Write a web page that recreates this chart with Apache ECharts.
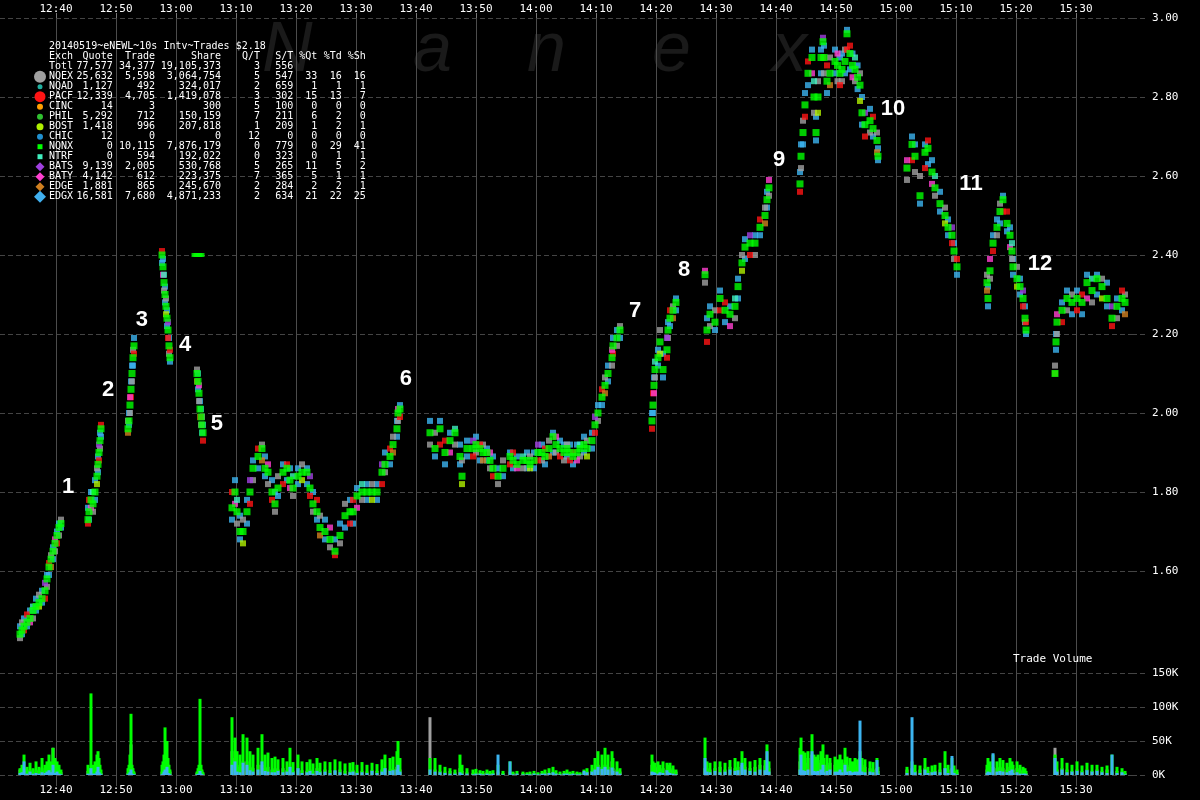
<!DOCTYPE html>
<html><head><meta charset="utf-8">
<script src="https://cdn.jsdelivr.net/npm/echarts@6/dist/echarts.min.js"></script>
<style>html,body{margin:0;padding:0;background:#000}#c{width:1200px;height:800px}</style>
</head><body><div id="c"></div>
<script>
// ---------- DATA (time = minutes after 12:00, 10s-interval trade clusters) ----------
const times = [
 34.0,34.33,34.67,35.17,35.67,36.17,36.67,37.17,37.67,38.17,38.5,38.83,39.17,39.5,39.83,40.17,40.5,40.83,
 45.33,45.5,45.83,46.17,46.5,46.83,47.0,47.17,47.33,47.5,
 52.0,52.17,52.33,52.5,52.67,52.83,53.0,
 57.67,57.83,58.0,58.17,58.33,58.5,58.67,58.83,59.0,
 63.5,63.67,63.83,64.0,64.17,64.33,64.5,
 69.33,69.83,70.17,70.67,71.17,71.83,72.33,72.83,73.67,74.33,74.83,75.33,76.0,76.5,77.0,77.83,78.5,79.0,79.5,80.33,81.0,81.83,82.33,82.83,83.5,84.0,84.83,85.67,86.5,87.33,88.17,89.0,89.5,90.17,91.0,91.83,92.67,93.5,94.33,94.83,95.67,96.17,96.83,97.0,97.33,
 102.33,103.17,104.0,104.83,105.67,106.5,107.33,107.67,108.5,109.5,110.0,110.67,111.17,111.83,112.33,112.83,113.67,114.5,115.67,116.17,116.83,117.83,118.5,119.0,119.67,120.33,121.0,121.5,122.17,122.83,123.33,124.0,124.67,125.17,125.67,126.17,126.83,127.33,128.0,128.5,129.33,129.83,130.33,131.0,131.5,132.0,132.67,132.83,133.5,134.0,
 139.33,139.5,139.67,139.83,140.33,140.67,141.17,141.83,142.0,142.33,142.83,143.33,
 148.17,148.5,149.0,149.83,150.67,151.5,152.33,153.17,153.67,154.33,154.83,155.67,156.5,157.33,158.17,158.5,158.83,
 164.0,164.17,164.5,164.83,165.33,166.0,166.33,166.67,167.0,167.5,167.83,168.0,168.5,169.0,169.83,170.25,170.67,171.0,171.5,171.83,172.33,172.75,173.17,173.6,174.0,174.33,174.83,175.67,176.17,176.83,177.0,
 181.83,182.67,183.17,184.0,184.83,185.33,186.0,186.5,187.33,188.17,188.67,189.33,189.67,190.17,
 195.17,195.33,195.67,196.17,196.83,197.33,197.83,198.5,199.0,199.33,199.5,200.17,200.67,201.17,201.5,201.67,
 206.5,206.67,206.83,207.67,208.5,209.33,210.17,211.0,211.83,212.67,213.5,214.33,215.17,216.0,216.83,217.67,218.17
];
const nqnxPrice = [
 1.44,1.45,1.46,1.47,1.48,1.50,1.51,1.52,1.53,1.55,1.58,1.61,1.63,1.65,1.67,1.69,1.71,1.72,
 1.73,1.75,1.78,1.77,1.80,1.84,1.87,1.90,1.93,1.96,
 1.96,1.98,2.02,2.06,2.10,2.14,2.17,
 2.40,2.37,2.33,2.30,2.27,2.24,2.21,2.17,2.14,
 2.10,2.08,2.05,2.01,1.99,1.97,1.95,
 1.76,1.80,1.75,1.70,1.70,1.75,1.80,1.86,1.89,1.91,1.86,1.85,1.80,1.77,1.81,1.85,1.86,1.83,1.81,1.84,1.85,1.85,1.81,1.77,1.75,1.71,1.70,1.68,1.65,1.69,1.74,1.75,1.75,1.79,1.80,1.80,1.80,1.80,1.85,1.87,1.89,1.92,1.96,2.00,2.01,
 1.95,1.91,1.96,1.90,1.93,1.95,1.89,1.84,1.91,1.91,1.92,1.91,1.90,1.90,1.88,1.86,1.84,1.86,1.89,1.88,1.87,1.88,1.88,1.87,1.88,1.90,1.90,1.89,1.91,1.94,1.92,1.91,1.90,1.91,1.90,1.89,1.90,1.91,1.92,1.91,1.93,1.97,2.00,2.04,2.07,2.10,2.14,2.17,2.19,2.21,
 1.98,2.02,2.07,2.11,2.14,2.18,2.11,2.16,2.21,2.24,2.26,2.28,
 2.35,2.21,2.25,2.23,2.29,2.26,2.25,2.27,2.32,2.38,2.42,2.43,2.43,2.47,2.50,2.54,2.57,
 2.58,2.65,2.71,2.78,2.86,2.90,2.80,2.71,2.80,2.90,2.94,2.90,2.84,2.86,2.89,2.88,2.86,2.87,2.89,2.96,2.91,2.88,2.87,2.85,2.83,2.76,2.73,2.74,2.72,2.69,2.65,
 2.62,2.68,2.65,2.55,2.66,2.67,2.61,2.57,2.53,2.50,2.47,2.45,2.41,2.37,
 2.33,2.29,2.36,2.43,2.47,2.51,2.54,2.48,2.45,2.41,2.37,2.34,2.32,2.29,2.24,2.21,
 2.10,2.18,2.23,2.26,2.29,2.28,2.29,2.28,2.33,2.31,2.34,2.32,2.29,2.24,2.27,2.29,2.28
];
const lowPrice = [
 1.43,1.44,1.45,1.46,1.47,1.48,1.50,1.51,1.52,1.53,1.56,1.59,1.61,1.63,1.65,1.67,1.69,1.71,
 1.72,1.73,1.76,1.75,1.78,1.82,1.85,1.88,1.91,1.94,
 1.95,1.97,2.00,2.04,2.08,2.12,2.15,
 2.38,2.35,2.31,2.28,2.25,2.22,2.19,2.15,2.13,
 2.08,2.06,2.03,1.99,1.97,1.95,1.93,
 1.73,1.77,1.72,1.68,1.67,1.72,1.77,1.83,1.86,1.88,1.84,1.82,1.78,1.75,1.79,1.82,1.83,1.81,1.79,1.82,1.83,1.82,1.79,1.75,1.73,1.69,1.68,1.66,1.64,1.67,1.71,1.72,1.72,1.76,1.78,1.78,1.78,1.78,1.82,1.85,1.87,1.90,1.94,1.98,1.99,
 1.92,1.89,1.92,1.87,1.90,1.92,1.87,1.82,1.89,1.89,1.90,1.88,1.88,1.88,1.86,1.84,1.82,1.84,1.87,1.86,1.86,1.86,1.86,1.86,1.86,1.88,1.88,1.87,1.89,1.90,1.90,1.89,1.88,1.89,1.88,1.87,1.88,1.89,1.90,1.89,1.91,1.95,1.98,2.02,2.05,2.08,2.12,2.15,2.17,2.19,
 1.96,2.00,2.05,2.09,2.12,2.15,2.09,2.14,2.19,2.22,2.24,2.26,
 2.33,2.18,2.22,2.21,2.26,2.23,2.22,2.24,2.29,2.36,2.39,2.40,2.40,2.45,2.48,2.52,2.55,
 2.56,2.62,2.68,2.75,2.83,2.86,2.76,2.69,2.76,2.86,2.90,2.86,2.81,2.83,2.86,2.84,2.83,2.84,2.86,2.92,2.87,2.85,2.84,2.82,2.79,2.73,2.70,2.71,2.70,2.66,2.64,
 2.59,2.64,2.61,2.53,2.62,2.63,2.58,2.55,2.51,2.48,2.45,2.43,2.39,2.35,
 2.31,2.27,2.34,2.41,2.45,2.48,2.51,2.46,2.42,2.39,2.35,2.32,2.30,2.27,2.23,2.20,
 2.10,2.16,2.20,2.23,2.26,2.25,2.26,2.25,2.29,2.28,2.30,2.29,2.27,2.22,2.24,2.26,2.25
];
const highPrice = [
 1.46,1.47,1.48,1.49,1.50,1.51,1.53,1.54,1.55,1.57,1.59,1.62,1.64,1.66,1.68,1.70,1.72,1.73,
 1.76,1.78,1.80,1.80,1.83,1.86,1.89,1.92,1.95,1.97,
 1.98,2.00,2.04,2.08,2.12,2.16,2.19,
 2.41,2.39,2.35,2.32,2.29,2.26,2.23,2.19,2.16,
 2.11,2.10,2.07,2.03,2.01,1.99,1.97,
 1.80,1.83,1.78,1.74,1.73,1.78,1.83,1.88,1.91,1.92,1.89,1.87,1.83,1.80,1.84,1.87,1.87,1.86,1.84,1.86,1.87,1.86,1.84,1.80,1.78,1.74,1.73,1.71,1.68,1.72,1.77,1.78,1.78,1.81,1.82,1.82,1.82,1.82,1.87,1.90,1.91,1.94,1.98,2.01,2.02,
 1.98,1.95,1.98,1.93,1.95,1.96,1.92,1.88,1.93,1.93,1.94,1.92,1.92,1.91,1.90,1.89,1.86,1.88,1.90,1.90,1.89,1.89,1.90,1.89,1.90,1.92,1.92,1.91,1.93,1.95,1.94,1.93,1.92,1.92,1.92,1.90,1.92,1.92,1.94,1.93,1.95,1.99,2.02,2.06,2.09,2.12,2.16,2.19,2.21,2.22,
 2.00,2.05,2.09,2.13,2.16,2.21,2.15,2.19,2.23,2.26,2.27,2.29,
 2.36,2.24,2.27,2.26,2.31,2.28,2.27,2.29,2.34,2.40,2.44,2.45,2.45,2.49,2.52,2.56,2.59,
 2.61,2.68,2.74,2.81,2.89,2.92,2.84,2.75,2.84,2.92,2.95,2.93,2.88,2.90,2.92,2.91,2.90,2.91,2.92,2.97,2.93,2.91,2.90,2.88,2.86,2.80,2.76,2.77,2.75,2.71,2.67,
 2.64,2.70,2.68,2.60,2.68,2.69,2.64,2.60,2.56,2.52,2.49,2.47,2.43,2.39,
 2.35,2.32,2.39,2.45,2.49,2.53,2.55,2.51,2.47,2.43,2.39,2.37,2.34,2.31,2.27,2.23,
 2.12,2.20,2.25,2.28,2.31,2.30,2.31,2.30,2.35,2.34,2.35,2.34,2.33,2.27,2.29,2.31,2.30
];
// exchanges printing at the top / bottom of each interval's range
const highExch = "EQEPETEQEBEPQEYE";
const lowExch  = "QEPEYQEOEPQEGEQP";
// isolated prints at $2.40 around 13:03
const loneTimes = [63.17,63.5,63.83,64.17];
const lonePrice = [2.40,2.40,2.40,2.40];

// trade volume per interval, thousands of shares
const volNQEX = [
 8,10,10,6,8,4,8,6,10,6,12,8,10,40,10,8,6,4,
 6,4,5,5,8,10,12,8,5,3,
 3,5,10,45,10,6,3,
 5,8,10,20,15,10,15,8,5,
 3,5,8,10,8,5,2,
 35,25,15,12,20,20,12,10,15,15,10,12,8,10,8,10,7,12,6,10,7,6,8,6,10,6,8,7,6,8,6,5,7,5,6,5,7,6,8,10,8,9,12,15,8,
 85,8,6,5,6,4,10,6,4,3,4,3,3,4,3,3,5,3,5,3,2,3,2,2,3,2,3,4,3,4,3,2,3,4,3,2,3,2,4,5,6,10,15,12,15,12,20,10,8,5,
 15,10,8,10,12,8,10,8,12,10,8,5,
 10,10,8,10,12,8,12,10,12,15,12,10,12,15,14,20,10,
 20,30,20,18,25,30,20,25,18,22,20,15,15,18,15,12,20,10,18,15,12,10,15,12,25,15,12,10,8,10,6,
 8,10,6,8,10,6,5,6,8,10,8,10,6,4,
 8,10,8,12,10,12,10,8,12,10,8,10,8,6,5,3,
 40,10,8,10,8,6,8,6,8,6,8,6,8,5,6,5,3
];
const volPACF = [
 0,2,0,2,0,3,0,2,0,3,2,0,5,8,2,3,0,0,
 2,0,2,3,2,4,0,3,2,0,
 0,2,5,5,5,2,0,
 0,2,3,5,3,2,4,0,0,
 0,0,2,0,2,0,0,
 10,8,5,4,6,5,4,3,5,5,3,4,3,2,3,2,3,4,2,3,2,3,2,2,3,3,2,2,3,2,2,3,2,2,3,2,2,2,3,4,3,3,4,5,2,
 5,3,2,2,1,2,5,2,1,1,2,1,1,1,1,1,3,1,2,1,1,1,0,1,1,0,1,1,1,1,1,1,0,1,1,1,1,0,1,2,2,3,5,4,6,4,5,3,3,2,
 5,3,4,3,3,2,3,2,3,2,3,1,
 5,4,3,3,4,2,3,5,4,5,4,3,3,5,4,18,3,
 5,8,6,5,10,15,8,10,6,5,8,4,5,4,5,3,6,4,6,5,4,3,6,4,15,12,4,5,3,3,2,
 2,3,2,3,2,2,3,2,3,3,2,4,2,1,
 3,4,3,5,4,3,5,3,4,3,3,4,2,2,2,1,
 5,3,4,3,3,2,3,2,3,2,3,2,3,2,2,2,1
];
const volNQNX = [
 10,15,30,12,18,10,20,12,25,15,20,30,20,40,25,20,15,8,
 15,10,120,15,20,30,35,25,15,8,
 10,15,30,90,15,10,5,
 15,20,30,70,40,50,25,15,8,
 5,10,15,112,15,8,4,
 85,55,35,30,60,55,35,30,40,60,30,33,25,27,23,25,20,40,19,30,20,19,23,17,25,18,20,19,23,20,17,18,19,15,19,15,18,16,23,30,25,27,35,50,25,
 25,25,15,12,10,8,30,15,10,8,9,7,6,8,6,7,15,6,20,5,6,5,4,5,6,4,6,8,10,12,7,5,6,8,5,6,5,4,8,10,15,25,35,30,40,30,35,25,20,10,
 30,20,15,18,20,15,20,18,15,18,14,8,
 55,20,18,20,20,18,22,25,20,35,25,20,22,25,22,45,20,
 40,55,35,33,35,60,30,27,30,35,45,25,30,25,27,23,30,23,40,27,25,20,25,23,35,25,23,20,19,25,12,
 12,20,15,14,25,12,14,15,18,35,15,25,14,8,
 15,25,20,30,20,25,22,18,25,20,15,20,15,12,10,6,
 30,15,20,25,18,15,20,14,18,15,15,12,14,30,12,10,6
];
const volEDGX = [
 3,4,20,2,5,2,3,2,4,3,5,7,4,15,3,5,2,1,
 2,1,10,2,2,5,12,4,2,1,
 1,2,4,8,2,1,1,
 1,2,5,8,4,12,3,2,1,
 1,1,2,6,2,1,0,
 15,20,5,4,18,15,7,5,8,20,6,5,4,4,6,4,5,12,4,10,3,4,6,2,6,4,5,3,7,4,2,4,5,3,4,3,6,3,5,10,6,7,8,15,5,
 8,5,4,3,2,2,4,2,2,1,2,2,1,2,1,2,30,1,20,1,2,1,1,1,2,1,2,2,3,4,2,1,2,2,1,2,1,1,6,4,5,8,12,9,12,8,11,6,5,2,
 5,3,4,3,2,4,3,7,4,3,2,1,
 25,5,4,6,4,5,8,6,7,18,8,6,5,8,7,35,5,
 8,30,7,6,8,35,6,5,6,8,15,4,6,8,5,5,8,4,15,5,6,4,5,5,80,5,4,5,4,22,2,
 3,85,4,3,8,3,4,5,4,10,3,28,3,1,
 3,5,4,32,5,6,5,4,6,8,3,4,2,2,2,1,
 25,3,5,8,4,5,6,4,7,5,6,4,3,30,3,4,1
];

// halt markers
const haltNames  = ['1','2','3','4','5','6','7','8','9','10','11','12'];
const haltTimes  = [42.0,48.67,54.33,61.5,66.83,98.33,136.5,144.67,160.5,179.5,192.5,204.0];
const haltPrices = [1.813,2.058,2.235,2.172,1.972,2.086,2.258,2.362,2.641,2.770,2.580,2.377];

// stats table
const tableTitle = '20140519~eNEWL~10s Intv~Trades $2.18';
const tableHeader = ['Exch','Quote','Trade','Share','Q/T','S/T','%Qt','%Td','%Sh'];
const rowExch  = ['Totl','NQEX','NQAD','PACF','CINC','PHIL','BOST','CHIC','NQNX','NTRF','BATS','BATY','EDGE','EDGX'];
const rowQuote = ['77,577','25,632','1,127','12,339','14','5,292','1,418','12','0','0','9,139','4,142','1,881','16,581'];
const rowTrade = ['34,377','5,598','492','4,705','3','712','996','0','10,115','594','2,005','612','865','7,680'];
const rowShare = ['19,105,373','3,064,754','324,017','1,419,078','300','150,159','207,818','0','7,876,179','192,022','530,768','223,375','245,670','4,871,233'];
const rowQT    = ['3','5','2','3','5','7','1','12','0','0','5','7','2','2'];
const rowST    = ['556','547','659','302','100','211','209','0','779','323','265','365','284','634'];
const rowPQt   = ['','33','1','15','0','6','1','0','0','0','11','5','2','21'];
const rowPTd   = ['','16','1','13','0','2','2','0','29','1','5','1','2','22'];
const rowPSh   = ['','16','1','7','0','0','1','0','41','1','2','1','1','25'];

const timeTicks = [40,50,60,70,80,90,100,110,120,130,140,150,160,170,180,190,200,210];
const priceTicks = [1.6,1.8,2.0,2.2,2.4,2.6,2.8,3.0];
const volTicks = [0,50000,100000,150000];

// ---------- STYLE ----------
const COL = {Q:'#a0a0a0', E:'#3cb4f0', P:'#ff1414', T:'#40f0c0', B:'#a040e0', Y:'#ff40d0', O:'#b0f000', G:'#d08020', N:'#00ff00'};
const MONO = 'DejaVu Sans Mono';
const n = times.length;
[nqnxPrice,lowPrice,highPrice,volNQEX,volPACF,volNQNX,volEDGX].forEach((a,i)=>{ if(a.length!==n) console.error('length mismatch', i, a.length, n); });

const fmtTime = m => { const h = 12 + Math.floor(m/60); const mm = Math.round(m - Math.floor(m/60)*60); return h + ':' + String(mm).padStart(2,'0'); };

const chart = echarts.init(document.getElementById('c'));

const extra = {};
for (let i=0;i<n;i++){
  const ch = highExch[i % highExch.length], cl = lowExch[i % lowExch.length];
  (extra[ch] = extra[ch] || []).push([times[i], highPrice[i]]);
  (extra[cl] = extra[cl] || []).push([times[i], lowPrice[i]]);
}
const series = [];
Object.keys(extra).forEach(k => series.push({
  type:'scatter', xAxisIndex:0, yAxisIndex:0, symbol:'rect', symbolSize:6, z:2, silent:true,
  itemStyle:{color:COL[k]}, data: extra[k]
}));
series.push({type:'scatter', name:'NQNX', xAxisIndex:0, yAxisIndex:0, symbol:'rect', symbolSize:7, z:3, silent:true,
  itemStyle:{color:COL.N}, data: times.map((t,i)=>[t, nqnxPrice[i]])});
series.push({type:'scatter', xAxisIndex:0, yAxisIndex:0, symbol:'rect', symbolSize:[7,4], z:3, silent:true,
  itemStyle:{color:COL.N}, data: loneTimes.map((t,i)=>[t, lonePrice[i]])});
[[volNQEX,COL.Q],[volPACF,COL.P],[volNQNX,COL.N],[volEDGX,COL.E]].forEach(([arr,c])=>{
  series.push({type:'bar', xAxisIndex:1, yAxisIndex:1, stack:'vol', barWidth:3, silent:true,
    itemStyle:{color:c}, data: times.map((t,i)=>[t, arr[i]*1000])});
});

const axisLabelBase = {color:'#ffffff', fontFamily:MONO, fontSize:11};
const xMin = 40 - 56/6, xMax = 40 + (1132-56)/6;
const option = {
  backgroundColor:'#000000',
  animation:false,
  grid:[
    {left:0, right:68, top:18, height:632},
    {left:0, right:68, top:639, height:136}
  ],
  xAxis:[
    {type:'value', gridIndex:0, position:'top', min:xMin, max:xMax,
     axisLine:{show:false}, axisTick:{show:true, length:5, customValues:timeTicks, lineStyle:{color:'#777'}},
     axisLabel:Object.assign({}, axisLabelBase, {margin:3, customValues:timeTicks, formatter:fmtTime}),
     splitLine:{show:true, lineStyle:{color:'#4c4c4c', width:1}}},
    {type:'value', gridIndex:1, position:'bottom', min:xMin, max:xMax,
     axisLine:{show:false}, axisTick:{show:true, length:11, customValues:timeTicks, lineStyle:{color:'#4c4c4c'}},
     axisLabel:Object.assign({}, axisLabelBase, {margin:10, customValues:timeTicks, formatter:fmtTime}),
     splitLine:{show:true, lineStyle:{color:'#4c4c4c', width:1}}}
  ],
  yAxis:[
    {type:'value', gridIndex:0, position:'right', min:1.4, max:3.0, interval:0.2,
     axisLine:{show:false},
     axisTick:{show:true, length:14, customValues:priceTicks, lineStyle:{color:'#444', type:[5,3]}},
     axisLabel:Object.assign({}, axisLabelBase, {margin:20, customValues:priceTicks, formatter:v=>v.toFixed(2)}),
     splitLine:{show:true, lineStyle:{color:'#444', type:[5,3]}}},
    {type:'value', gridIndex:1, position:'right', min:0, max:200000, interval:50000,
     axisLine:{show:false},
     axisTick:{show:true, length:14, customValues:volTicks, lineStyle:{color:'#444', type:[5,3]}},
     axisLabel:Object.assign({}, axisLabelBase, {margin:20, customValues:volTicks, formatter:v=>(v/1000)+'K'}),
     splitLine:{show:true, lineStyle:{color:'#444', type:[5,3]}}}
  ],
  series: series
};
chart.setOption(option);

// ---------- graphics: watermark, table, halt numbers, volume caption ----------
const graphic = [];
[['N',262],['a',413],['n',527],['e',652],['x',772]].forEach(([ch,x])=>{
  graphic.push({type:'text', x:x, y:52, z:-10, silent:true,
    style:{text:ch, fill:'#1a1a1a', font:'italic 70px "Liberation Sans"', textVerticalAlign:'middle'}});
});
const T = (txt, x, y, align) => graphic.push({type:'text', x:x, y:y, z:20, silent:true,
  style:{text:txt, fill:'#ffffff', font:'10px "'+MONO+'"', textAlign:align||'left', textVerticalAlign:'middle'}});
const rowY0 = 46.7, rowH = 10;
T(tableTitle, 49, rowY0);
const colRight = [112.7,155,221,260,293.3,317.3,341.7,365.7];
T(tableHeader[0], 49, rowY0+rowH);
for (let c=1;c<tableHeader.length;c++) T(tableHeader[c], colRight[c-1], rowY0+rowH, 'right');
const cols = [rowQuote,rowTrade,rowShare,rowQT,rowST,rowPQt,rowPTd,rowPSh];
for (let r=0;r<rowExch.length;r++){
  const y = rowY0 + rowH*(r+2);
  T(rowExch[r], 49, y);
  cols.forEach((arr,c)=>{ if(arr[r]!=='') T(arr[r], colRight[c], y, 'right'); });
}
const iconX = 40;
const icons = [
  ['circle','#a0a0a0',6], ['circle','#20b0a0',2.5], ['circle','#ff1414',5.5], ['circle','#ffa000',3],
  ['circle','#30c030',3], ['circle','#b0f000',3.5], ['circle','#2090d0',3], ['rect','#00ff00',5],
  ['rect','#40f0c0',5], ['diamond','#a040e0',4.5], ['diamond','#ff40d0',4.5], ['diamond','#d08020',4.5], ['diamond','#40b0f0',6]
];
icons.forEach(([shp,c,s],i)=>{
  const y = rowY0 + rowH*(i+3);
  if (shp==='circle') graphic.push({type:'circle', z:20, silent:true, shape:{cx:iconX, cy:y, r:s}, style:{fill:c}});
  else if (shp==='rect') graphic.push({type:'rect', z:20, silent:true, shape:{x:iconX-s/2, y:y-s/2, width:s, height:s}, style:{fill:c}});
  else graphic.push({type:'polygon', z:20, silent:true, shape:{points:[[iconX,y-s],[iconX+s,y],[iconX,y+s],[iconX-s,y]]}, style:{fill:c}});
});
haltNames.forEach((name,i)=>{
  const pt = chart.convertToPixel({xAxisIndex:0, yAxisIndex:0}, [haltTimes[i], haltPrices[i]]);
  graphic.push({type:'text', x:pt[0], y:pt[1], z:30, silent:true,
    style:{text:name, fill:'#ffffff', font:'bold 22px "Liberation Sans"', textAlign:'center', textVerticalAlign:'middle'}});
});
graphic.push({type:'text', x:1013, y:659, z:20, silent:true,
  style:{text:'Trade Volume', fill:'#ffffff', font:'11px "'+MONO+'"', textVerticalAlign:'middle'}});
chart.setOption({graphic: graphic});
</script>
</body></html>
